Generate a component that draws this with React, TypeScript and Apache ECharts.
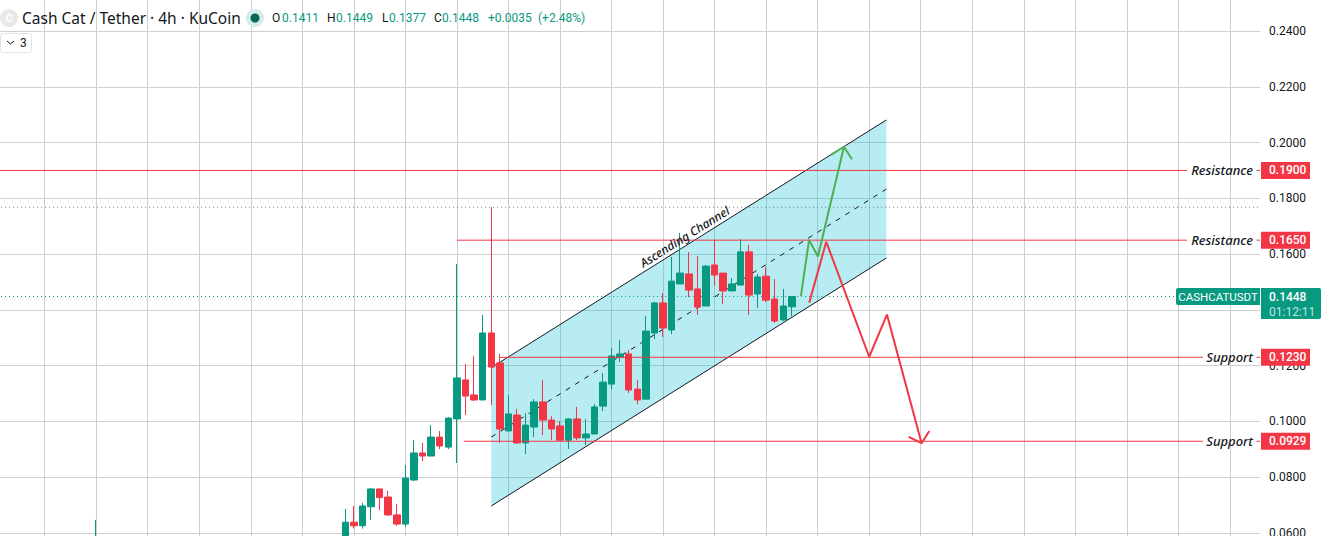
import React, { useEffect, useRef } from 'react';
import * as echarts from 'echarts';

const GREEN = '#089981';
const RED = '#F23645';
const ARROW_GREEN = '#4CAF50';
const INK = '#131722';
const FONT = 'Roboto, "Noto Sans", sans-serif';
const WIDE_FONT = '"Noto Sans", Roboto, sans-serif';

const barCount = 147;
const firstCandle = 40;

// the only visible wick left of the rally
const strayIndex = 11;
const strayCandle = [0.05, 0.055, 0.05, 0.0647];

// [open, close, low, high]
const candles = [
  [0.0563, 0.0639, 0.055, 0.0686],
  [0.0639, 0.0626, 0.0616, 0.0697],
  [0.0626, 0.0697, 0.0616, 0.0708],
  [0.0694, 0.0758, 0.0647, 0.0761],
  [0.0758, 0.0727, 0.0682, 0.0758],
  [0.0729, 0.0665, 0.0661, 0.0751],
  [0.0665, 0.0632, 0.0626, 0.0704],
  [0.0632, 0.0797, 0.0623, 0.0844],
  [0.079, 0.0887, 0.0786, 0.0933],
  [0.0887, 0.0876, 0.0858, 0.0923],
  [0.0876, 0.0944, 0.0876, 0.0987],
  [0.0944, 0.0912, 0.0901, 0.0966],
  [0.0908, 0.1012, 0.0901, 0.1016],
  [0.1009, 0.1156, 0.0851, 0.1564],
  [0.1149, 0.1091, 0.1023, 0.1206],
  [0.1095, 0.1077, 0.1073, 0.1235],
  [0.1077, 0.1317, 0.1077, 0.1382],
  [0.1317, 0.1195, 0.1059, 0.1768],
  [0.121, 0.0973, 0.0923, 0.1242],
  [0.0966, 0.1027, 0.0966, 0.1095],
  [0.1023, 0.0923, 0.0919, 0.1045],
  [0.0923, 0.0987, 0.0883, 0.103],
  [0.098, 0.107, 0.0944, 0.108],
  [0.107, 0.1005, 0.0951, 0.1149],
  [0.1005, 0.0973, 0.0933, 0.1019],
  [0.0984, 0.0933, 0.0933, 0.1001],
  [0.0933, 0.1009, 0.0901, 0.1012],
  [0.1009, 0.0941, 0.0933, 0.1052],
  [0.0941, 0.0955, 0.0915, 0.1009],
  [0.0955, 0.1052, 0.0955, 0.1062],
  [0.1055, 0.1141, 0.1037, 0.1174],
  [0.1134, 0.1235, 0.1116, 0.1263],
  [0.123, 0.1242, 0.1213, 0.1292],
  [0.1242, 0.1113, 0.1102, 0.1256],
  [0.1116, 0.1077, 0.1062, 0.1149],
  [0.108, 0.1324, 0.108, 0.1378],
  [0.1317, 0.1425, 0.1295, 0.1428],
  [0.1425, 0.1335, 0.1303, 0.146],
  [0.1328, 0.1503, 0.1313, 0.159],
  [0.1493, 0.1532, 0.1493, 0.1676],
  [0.1529, 0.1471, 0.1446, 0.1608],
  [0.1475, 0.141, 0.1382, 0.1593],
  [0.1414, 0.1557, 0.1414, 0.1561],
  [0.1561, 0.1525, 0.1486, 0.165],
  [0.1532, 0.1468, 0.1421, 0.1532],
  [0.1468, 0.1493, 0.1468, 0.1514],
  [0.1489, 0.1608, 0.1489, 0.1654],
  [0.1608, 0.1453, 0.1382, 0.1633],
  [0.1457, 0.1518, 0.1407, 0.1529],
  [0.1521, 0.1435, 0.1428, 0.1554],
  [0.1439, 0.136, 0.1353, 0.1511],
  [0.1364, 0.1414, 0.136, 0.1475],
  [0.1411, 0.1448, 0.1377, 0.1449],
];

// overlays, [bar index, price]
const channelTop = [[57, 0.1193], [103, 0.2081]];
const channelMiddle = [[57, 0.0944], [103, 0.1833]];
const channelBottom = [[57, 0.0697], [103, 0.1586]];

const resistanceHigh = [[-1, 0.19], [138, 0.19]];
const resistanceHighTail = [[146.1, 0.19], [146.5, 0.19]];
const resistanceLow = [[53, 0.165], [138, 0.165]];
const resistanceLowTail = [[146.1, 0.165], [146.5, 0.165]];
const supportHigh = [[58, 0.123], [139.85, 0.123]];
const supportHighTail = [[146.1, 0.123], [146.5, 0.123]];
const supportLow = [[53.8, 0.0929], [139.85, 0.0929]];
const supportLowTail = [[146.1, 0.0929], [146.5, 0.0929]];

const dottedHigh = [[-1, 0.1768], [146.5, 0.1768]];
const dottedLast = [[-1, 0.1448], [136.6, 0.1448]];

const upPath = [[93.05, 0.145], [94, 0.1651], [95.03, 0.1591], [98.06, 0.1985]];
const upHead = [[96.55, 0.1956], [98.06, 0.1985], [98.99, 0.194]];
const downPath = [[94.02, 0.1426], [96, 0.1644], [101, 0.1232], [103.07, 0.1383], [107.1, 0.0922]];
const downHead = [[105.6, 0.0945], [107.1, 0.0922], [108, 0.0966]];

const priceTags = [
  { value: 0.19, name: 'Resistance' },
  { value: 0.165, name: 'Resistance' },
  { value: 0.123, name: 'Support' },
  { value: 0.0929, name: 'Support' },
];

// 0.1400 is behind the last price tag, the other ticks fall outside the window
const tickLabels = ['0.0600', '0.0800', '0.1000', '0.1200', '0.1600', '0.1800', '0.2000', '0.2200', '0.2400'];

const lastPrice = 0.1448;
const countdown = '01:12:11';
const symbol = 'CASHCATUSDT';
const title = 'Cash Cat / Tether · 4h · KuCoin';
const ohlcLetters = ['O', 'H', 'L', 'C'];
const ohlcValues = ['0.1411', '0.1449', '0.1377', '0.1448'];
const ohlcLetterX = [272, 327, 382, 434];
const ohlcValueX = [282, 336, 389, 442];
const change = '+0.0035';
const changePct = '(+2.48%)';

const labels = Array.from({ length: barCount }, (_, i) => String(i));
const candleData = labels.map((_, i) => {
  if (i === strayIndex) return strayCandle;
  return candles[i - firstCandle] || ['-', '-', '-', '-'];
});

const lineSeries = (data: number[][], color: string, width: number, z: number, type: any = 'solid') => ({
  type: 'line',
  xAxisIndex: 1,
  data,
  symbol: 'none',
  z,
  silent: true,
  lineStyle: { color, width, type },
});

const App = () => {
  const chartRef = useRef<HTMLDivElement>(null);

  useEffect(() => {
    if (!chartRef.current) return;
    const chart = echarts.init(chartRef.current, null, { renderer: 'svg' });

    const option = {
      animation: false,
      backgroundColor: '#ffffff',
      grid: { left: -2.6, width: 1262.6, top: -24.8, height: 613.6, outerBoundsMode: 'none' },
      xAxis: [
        {
          type: 'category',
          data: labels,
          axisLine: { show: false },
          axisTick: { show: false },
          axisLabel: { show: false },
          splitLine: {
            show: true,
            alignWithLabel: true,
            interval: (i: number) => i % 6 === 5,
            lineStyle: { color: '#cfcfcf', width: 1 },
          },
        },
        { type: 'value', min: -0.5, max: 146.5, show: false, splitLine: { show: false } },
      ],
      yAxis: {
        type: 'value',
        position: 'right',
        min: 0.04,
        max: 0.26,
        interval: 0.02,
        axisLine: { show: false },
        axisTick: { show: false },
        axisLabel: {
          margin: 9,
          color: INK,
          fontSize: 12,
          fontFamily: FONT,
          formatter: (v: number) => (tickLabels.includes(v.toFixed(4)) ? v.toFixed(4) : ''),
        },
        splitLine: { show: true, lineStyle: { color: '#cfcfcf', width: 1 } },
      },
      series: [
        {
          type: 'custom',
          xAxisIndex: 1,
          z: 1,
          silent: true,
          clip: false,
          data: [channelBottom[0]],
          renderItem: (_: any, api: any) => ({
            type: 'polygon',
            shape: {
              points: [channelBottom[0], channelBottom[1], channelTop[1], channelTop[0]].map((p) => api.coord(p)),
            },
            style: { fill: 'rgba(0,188,212,0.28)' },
          }),
        },
        lineSeries(channelTop, INK, 1, 2),
        lineSeries(channelBottom, INK, 1, 2),
        lineSeries(channelMiddle, INK, 1, 2, [5, 6]),
        {
          type: 'candlestick',
          xAxisIndex: 0,
          data: candleData,
          barWidth: 7,
          z: 3,
          silent: true,
          itemStyle: {
            color: GREEN,
            color0: RED,
            borderColor: GREEN,
            borderColor0: RED,
            borderWidth: 1,
          },
        },
        lineSeries(dottedHigh, '#787B86', 1, 2, [1, 3]),
        lineSeries(dottedLast, GREEN, 1, 2, [1, 3]),
        lineSeries(resistanceHigh, RED, 1, 4),
        lineSeries(resistanceHighTail, RED, 1, 4),
        lineSeries(resistanceLow, RED, 1, 4),
        lineSeries(resistanceLowTail, RED, 1, 4),
        lineSeries(supportHigh, RED, 1, 4),
        lineSeries(supportHighTail, RED, 1, 4),
        lineSeries(supportLow, RED, 1, 4),
        lineSeries(supportLowTail, RED, 1, 4),
        lineSeries(upPath, ARROW_GREEN, 2, 5),
        lineSeries(upHead, ARROW_GREEN, 2, 5),
        lineSeries(downPath, RED, 2, 5),
        lineSeries(downHead, RED, 2, 5),
      ],
    };
    chart.setOption(option);

    // tags and legend sit on top and follow the price scale
    const yPx = (v: number) => chart.convertToPixel({ yAxisIndex: 0 }, v) as number;
    const headerText = (text: string, x: number, fill: string, fontSize = 12, fontFamily = FONT) => ({
      type: 'text',
      x,
      y: 18,
      z: 20,
      style: { text, fill, fontSize, fontFamily, verticalAlign: 'middle' },
    });

    const graphics: any[] = [
      { type: 'circle', shape: { cx: 9, cy: 18, r: 9 }, style: { fill: '#e8e8e8' }, z: 20 },
      {
        type: 'text',
        x: 9,
        y: 18,
        z: 21,
        style: { text: 'C', fill: '#ffffff', fontSize: 11, fontFamily: FONT, fontWeight: 'bold', align: 'center', verticalAlign: 'middle' },
      },
      headerText(title, 22, INK, 15.5, WIDE_FONT),
      { type: 'circle', shape: { cx: 255, cy: 18, r: 9 }, style: { fill: '#d5ece8' }, z: 20 },
      { type: 'circle', shape: { cx: 255, cy: 18, r: 4.5 }, style: { fill: '#056656' }, z: 21 },
      ...ohlcLetters.map((t, i) => headerText(t, ohlcLetterX[i], INK)),
      ...ohlcValues.map((t, i) => headerText(t, ohlcValueX[i], GREEN)),
      headerText(change, 488, GREEN),
      headerText(changePct, 538, GREEN),
      {
        type: 'rect',
        shape: { x: 0.5, y: 33.5, width: 31, height: 19, r: 3 },
        style: { fill: '#ffffff', stroke: '#e0e3eb', lineWidth: 1 },
        z: 20,
      },
      {
        type: 'polyline',
        shape: { points: [[7, 41], [10.5, 44], [14, 41]] },
        style: { stroke: INK, lineWidth: 1, fill: 'none' },
        z: 21,
      },
      {
        type: 'text',
        x: 20,
        y: 43,
        z: 21,
        style: { text: '3', fill: INK, fontSize: 12, fontFamily: FONT, verticalAlign: 'middle' },
      },
      {
        type: 'text',
        x: 684.7,
        y: 236.7,
        z: 20,
        rotation: 0.56,
        style: {
          text: 'Ascending Channel',
          fill: INK,
          fontSize: 12,
          fontStyle: 'italic',
          fontWeight: 500,
          fontFamily: WIDE_FONT,
          align: 'center',
          verticalAlign: 'middle',
        },
      },
    ];

    priceTags.forEach((tag) => {
      const y = yPx(tag.value);
      graphics.push(
        {
          type: 'text',
          x: 1253,
          y,
          z: 20,
          style: {
            text: tag.name,
            fill: INK,
            fontSize: 13,
            fontStyle: 'italic',
            fontWeight: 500,
            fontFamily: WIDE_FONT,
            align: 'right',
            verticalAlign: 'middle',
          },
        },
        {
          type: 'rect',
          shape: { x: 1261, y: y - 8.5, width: 49, height: 17 },
          style: { fill: RED },
          z: 20,
        },
        {
          type: 'text',
          x: 1269,
          y,
          z: 21,
          style: { text: tag.value.toFixed(4), fill: '#ffffff', fontSize: 12, fontWeight: 500, fontFamily: FONT, verticalAlign: 'middle' },
        }
      );
    });

    const lastY = yPx(lastPrice);
    graphics.push(
      {
        type: 'rect',
        shape: { x: 1176, y: lastY - 8.5, width: 84, height: 17, r: [2, 0, 0, 2] },
        style: { fill: GREEN },
        z: 20,
      },
      {
        type: 'text',
        x: 1218,
        y: lastY,
        z: 21,
        style: { text: symbol, fill: '#ffffff', fontSize: 11.5, fontFamily: FONT, align: 'center', verticalAlign: 'middle' },
      },
      {
        type: 'rect',
        shape: { x: 1261, y: lastY - 8.5, width: 60, height: 31, r: [0, 2, 2, 0] },
        style: { fill: GREEN },
        z: 20,
      },
      {
        type: 'text',
        x: 1269,
        y: lastY,
        z: 21,
        style: { text: lastPrice.toFixed(4), fill: '#ffffff', fontSize: 12, fontWeight: 500, fontFamily: FONT, verticalAlign: 'middle' },
      },
      {
        type: 'text',
        x: 1269,
        y: lastY + 15,
        z: 21,
        style: { text: countdown, fill: 'rgba(255,255,255,0.75)', fontSize: 12, fontFamily: FONT, verticalAlign: 'middle' },
      }
    );

    chart.setOption({ graphic: graphics });

    return () => {
      chart.dispose();
    };
  }, []);

  return <div ref={chartRef} style={{ position: 'fixed', left: 0, top: 0, width: '1327px', height: '536px' }} />;
};

export default App;
